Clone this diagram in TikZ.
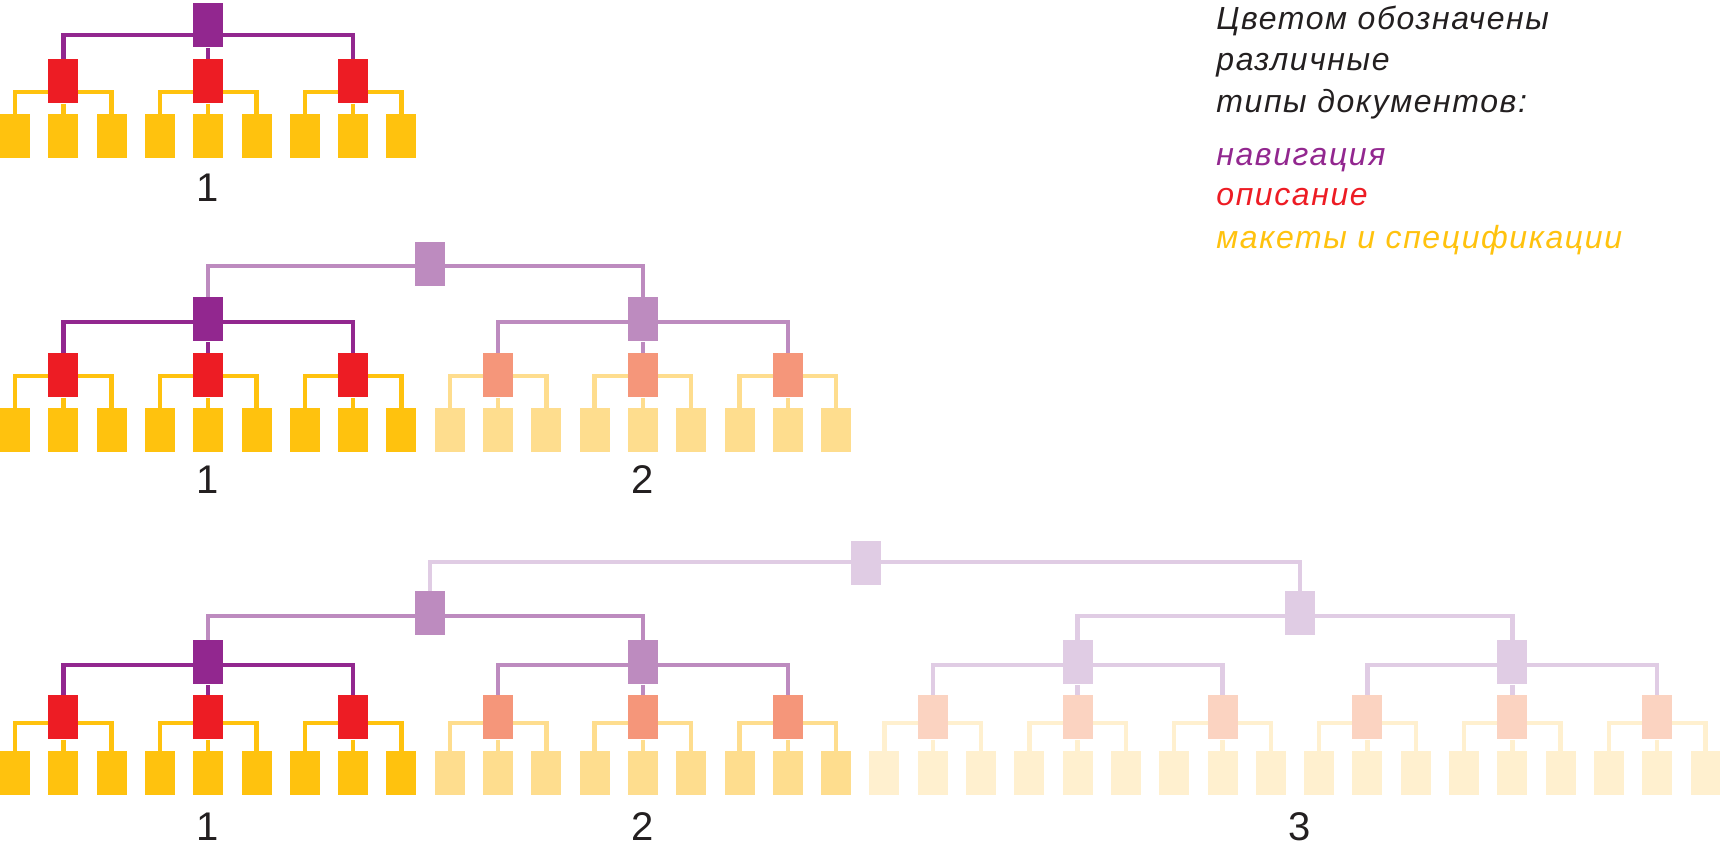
\documentclass[tikz,border=0pt]{standalone}
\usepackage{fontspec}
\setmainfont{Liberation Sans}
\newfontfamily\legendfont[LetterSpace=5]{Liberation Sans}
\usepackage{tikz}

\definecolor{ink}{HTML}{231F20}
\definecolor{docnav1}{HTML}{92278F}
\definecolor{docred1}{HTML}{ED1C24}
\definecolor{docleaf1}{HTML}{FFC20E}
\definecolor{docnav2}{HTML}{BD8BBF}
\definecolor{docred2}{HTML}{F5967A}
\definecolor{docleaf2}{HTML}{FEDD8E}
\definecolor{docnav3}{HTML}{E0CCE4}
\definecolor{docred3}{HTML}{FBD3C1}
\definecolor{docleaf3}{HTML}{FFF0CF}

\pgfdeclarelayer{links}
\pgfsetlayers{links,main}

\tikzset{
  docbox/.style={rectangle, anchor=north, inner sep=0pt, minimum width=15pt, minimum height=22pt},
  link/.style={line width=2.2pt},
  treenum/.style={font=\fontsize{20}{24}\selectfont, text=ink},
  legendline/.style={anchor=base west, inner sep=0pt, font=\legendfont\itshape\fontsize{16}{19}\selectfont},
}

% tree of 9 documents: name, position, shade, then the heights of
% root, root link, middle row, middle link and leaves
\newcommand{\doctree}[8]{%
  \pgfmathsetmacro{\rootx}{(9*#2+4)*48.3+15}
  \node[docbox, fill=docnav#3] (#1) at (\rootx,#4) {};
  \foreach \j in {0,1,2} {
    \pgfmathsetmacro{\midx}{(9*#2+3*\j+1)*48.3+15}
    \node[docbox, fill=docred#3] (#1-\j) at (\midx,#6) {};
    \foreach \k in {0,1,2} {
      \pgfmathsetmacro{\leafx}{(9*#2+3*\j+\k)*48.3+15}
      \node[docbox, fill=docleaf#3] (#1-\j-\k) at (\leafx,#8) {};
    }
    \begin{pgfonlayer}{links}
      \draw[link, docleaf#3] (#1-\j-0.north) -- (#1-\j-0.north |- 0,#7) -| (#1-\j-2.north);
      \draw[link, docleaf#3] (#1-\j) -- (#1-\j-1);
    \end{pgfonlayer}
  }
  \begin{pgfonlayer}{links}
    \draw[link, docnav#3] (#1-0.north) -- (#1-0.north |- 0,#5) -| (#1-2.north);
    \draw[link, docnav#3] (#1) -- (#1-1);
  \end{pgfonlayer}
}

\begin{document}
\begin{tikzpicture}[x=0.5pt, y=-0.5pt]
  \useasboundingbox (0,0) rectangle (1720,848);

  % first row
  \doctree{a}{0}{1}{3}{35}{59}{92}{114}
  \node[treenum] (num-a) at (208,188) {1};

  % second row
  \doctree{b}{0}{1}{297}{322}{353}{376}{408}
  \doctree{c}{1}{2}{297}{322}{353}{376}{408}
  \node[docbox, fill=docnav2] (bc) at (430,242) {};
  \begin{pgfonlayer}{links}
    \draw[link, docnav2] (b.north) -- (b.north |- 0,266) -| (c.north);
  \end{pgfonlayer}
  \node[treenum] (num-b) at (208,480) {1};
  \node[treenum] (num-c) at (643,480) {2};

  % third row
  \doctree{d}{0}{1}{640}{665}{695}{723}{751}
  \doctree{e}{1}{2}{640}{665}{695}{723}{751}
  \doctree{f}{2}{3}{640}{665}{695}{723}{751}
  \doctree{g}{3}{3}{640}{665}{695}{723}{751}
  \node[docbox, fill=docnav2] (de) at (430,591) {};
  \node[docbox, fill=docnav3] (fg) at (1300,591) {};
  \node[docbox, fill=docnav3] (defg) at (866,541) {};
  \begin{pgfonlayer}{links}
    \draw[link, docnav2] (d.north) -- (d.north |- 0,616) -| (e.north);
    \draw[link, docnav3] (f.north) -- (f.north |- 0,616) -| (g.north);
    \draw[link, docnav3] (de.north) -- (de.north |- 0,562) -| (fg.north);
  \end{pgfonlayer}
  \node[treenum] (num-d) at (208,827) {1};
  \node[treenum] (num-e) at (643,827) {2};
  \node[treenum] (num-fg) at (1300,827) {3};

  % legend
  \foreach \txt/\yy/\col [count=\n] in {Цветом обозначены/29/ink, различные/70/ink,
      типы документов:/112/ink, навигация/165/docnav1, описание/205/docred1,
      макеты и спецификации/248/docleaf1}
    \node[legendline, text=\col] (legend-\n) at (1216,\yy) {\txt};
\end{tikzpicture}
\end{document}
